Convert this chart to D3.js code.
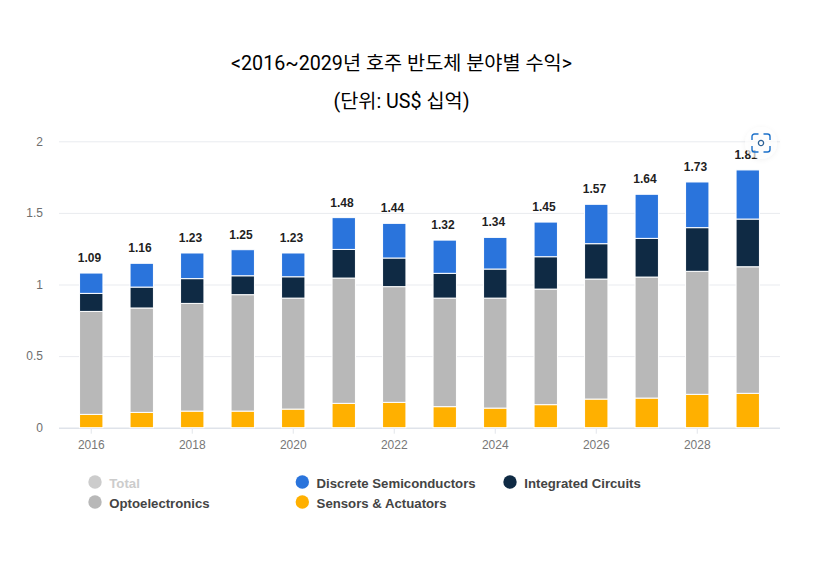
<!DOCTYPE html>
<html><head><meta charset="utf-8">
<script src="https://cdn.jsdelivr.net/npm/d3@7"></script>
<style>
html,body{margin:0;padding:0;background:#fff}
svg{display:block}
text{font-family:"Liberation Sans",Arial,sans-serif}
.ttl{font-family:Roboto,"Noto Sans CJK KR",sans-serif;font-size:19.7px;fill:#000;text-anchor:middle}
</style></head><body>
<svg id="c" width="827" height="569"></svg>
<script>
const years=[2016,2017,2018,2019,2020,2021,2022,2023,2024,2025,2026,2027,2028,2029];
const totals=[1.09,1.16,1.23,1.25,1.23,1.48,1.44,1.32,1.34,1.45,1.57,1.64,1.73,1.81];
const sensors=[0.093,0.107,0.116,0.116,0.130,0.170,0.177,0.147,0.137,0.161,0.200,0.207,0.233,0.240];
const opto=[0.719,0.729,0.752,0.813,0.775,0.875,0.808,0.758,0.768,0.807,0.838,0.845,0.859,0.884];
const integrated=[0.126,0.146,0.173,0.132,0.149,0.200,0.200,0.173,0.203,0.226,0.247,0.270,0.305,0.333];
const discrete=[0.142,0.166,0.179,0.182,0.166,0.222,0.242,0.232,0.221,0.242,0.275,0.308,0.319,0.343];
const yTicks=[0,0.5,1,1.5,2];
const xTicks=[2016,2018,2020,2022,2024,2026,2028];
const titleLines=["<2016~2029년 호주 반도체 분야별 수익>","(단위: US$ 십억)"];
const seriesKeys=["Sensors & Actuators","Optoelectronics","Integrated Circuits","Discrete Semiconductors"];
const seriesValues=[sensors,opto,integrated,discrete];
const colors=["#ffb000","#b8b8b8","#0f2a44","#2a74dc"];
const legendNames=["Total","Optoelectronics","Discrete Semiconductors","Sensors & Actuators","Integrated Circuits"];
const legendColors=["#cccccc","#b8b8b8","#2a74dc","#ffb000","#0f2a44"];

const svg=d3.select("#c");
svg.selectAll("text.ttl").data(titleLines).join("text").attr("class","ttl")
  .attr("x",401.5).attr("y",(d,i)=>[69.5,108][i]).text(d=>d);

const x=d3.scaleBand().domain(years).range([59,780]).paddingInner(0.537).paddingOuter(0.407);
const y=d3.scaleLinear().domain([0,2]).range([427.7,141.3]);

const gy=svg.append("g").attr("transform","translate(59,0)")
  .call(d3.axisLeft(y).tickValues(yTicks).tickSize(0).tickPadding(16).tickFormat(d=>String(d)));
gy.select(".domain").remove();
gy.selectAll("text").attr("fill","#6e6e6e").attr("font-size",12).attr("font-family","Liberation Sans");
gy.selectAll("line").attr("x2",721).attr("stroke","#e9ebef").attr("stroke-width",1);
gy.selectAll(".tick").filter(d=>d===0).select("line").attr("stroke","#dfe3ea").attr("stroke-width",1.6);

const gx=svg.append("g").attr("transform","translate(0,427.7)")
  .call(d3.axisBottom(x).tickValues(xTicks).tickSize(6).tickPadding(7).tickFormat(d=>String(d)));
gx.select(".domain").remove();
gx.selectAll("line").attr("stroke","#e2e5ea");
gx.selectAll("text").attr("fill","#777").attr("font-size",12).attr("font-family","Liberation Sans");

const rows=years.map((yr,i)=>{const r={year:yr};seriesKeys.forEach((k,j)=>r[k]=seriesValues[j][i]);return r;});
const stack=d3.stack().keys(seriesKeys)(rows);
svg.append("g").selectAll("g").data(stack).join("g").attr("fill",(d,i)=>colors[i])
  .selectAll("rect").data(d=>d).join("rect")
  .attr("x",d=>x(d.data.year)).attr("width",x.bandwidth())
  .attr("y",d=>y(d[1])).attr("height",d=>y(d[0])-y(d[1]))
  .attr("stroke","#fff").attr("stroke-width",1);

svg.append("g").selectAll("text").data(years).join("text")
  .attr("x",d=>x(d)+x.bandwidth()/2-1.7)
  .attr("y",(d,i)=>y(d3.sum(seriesValues,s=>s[i]))-11)
  .attr("text-anchor","middle").attr("font-size",12).attr("font-weight","bold").attr("fill","#1f1f1f")
  .text((d,i)=>totals[i].toFixed(2));

const legendX=[95,95,302.3,302.3,510], legendY=[482,502,482,502,482];
const lg=svg.append("g").selectAll("g").data(legendNames).join("g")
  .attr("transform",(d,i)=>`translate(${legendX[i]},${legendY[i]})`);
lg.append("circle").attr("r",6.7).attr("fill",(d,i)=>legendColors[i]);
lg.append("text").attr("x",14.3).attr("y",5.8).attr("font-size",13.2).attr("font-weight","bold")
  .attr("fill",(d,i)=>i===0?"#cccccc":"#444").text(d=>d);

// scan-lens badge in the top right corner
const defs=svg.append("defs");
const f=defs.append("filter").attr("id","sh").attr("x","-40%").attr("y","-40%").attr("width","180%").attr("height","180%");
f.append("feDropShadow").attr("dx",0).attr("dy",1).attr("stdDeviation",2.5).attr("flood-color","#000").attr("flood-opacity",0.08);
const b=svg.append("g").attr("transform","translate(761,143)");
b.append("circle").attr("r",16).attr("fill","#fff").attr("fill-opacity",0.7).attr("filter","url(#sh)");
b.append("path").attr("d","M-9,-3 V-6.5 a2.5,2.5 0 0 1 2.5,-2.5 H-2.5 M2.5,-9 H6.5 a2.5,2.5 0 0 1 2.5,2.5 V-3 M9,3 V6.5 a2.5,2.5 0 0 1 -2.5,2.5 H2.5 M-2.5,9 H-6.5 a2.5,2.5 0 0 1 -2.5,-2.5 V3")
  .attr("fill","none").attr("stroke","#1a6fc9").attr("stroke-width",1.4);
b.append("circle").attr("r",2.6).attr("fill","none").attr("stroke","#2a5f94").attr("stroke-width",1.3);
</script></body></html>
